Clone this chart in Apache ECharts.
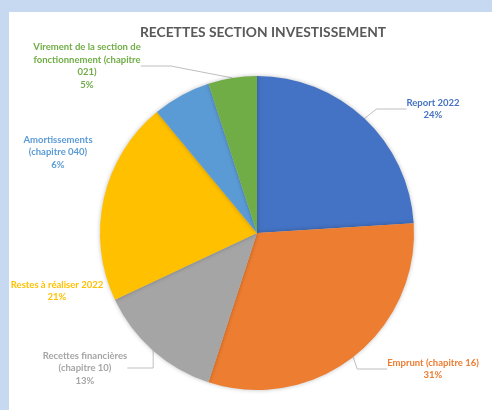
<!DOCTYPE html>
<html>
<head>
<meta charset="utf-8">
<script src="https://cdn.jsdelivr.net/npm/echarts@6/dist/echarts.min.js"></script>
<style>
  html, body { margin: 0; padding: 0; background: #c6d9f1; }
  #main { width: 492px; height: 410px; }
</style>
</head>
<body>
<div id="main"></div>
<script>
// données du graphique
const categories = [
  'Report 2022',
  'Emprunt (chapitre 16)',
  'Recettes financières\n(chapitre 10)',
  'Restes à réaliser 2022',
  'Amortissements\n(chapitre 040)',
  'Virement de la section de\nfonctionnement (chapitre\n021)'
]
const values = [24, 31, 13, 21, 6, 5]
const colors = ['#4472C4', '#ED7D31', '#A5A5A5', '#FFC000', '#5B9BD5', '#70AD47']
const showLine = [true, true, true, false, false, true]

// position des étiquettes (comme dans Excel)
const labelPos = [
  [433, 109], [433, 369], [85, 368], [57, 291], [58, 152], [87, 66]
]

const font = 'Lato, "Open Sans", sans-serif'

const chart = echarts.init(document.getElementById('main'))
chart.setOption({
  backgroundColor: '#c6d9f1',
  animation: false,
  graphic: [{
    type: 'rect',
    z: -10,
    shape: { x: 9, y: 12, width: 483, height: 398 },
    style: { fill: '#ffffff' },
    silent: true
  }],
  title: {
    text: 'RECETTES SECTION INVESTISSEMENT',
    left: 258,
    top: 21,
    textAlign: 'center',
    textStyle: { fontFamily: font, fontSize: 13.8, fontWeight: 'bold', color: '#595959' }
  },
  series: [
    {
      type: 'pie',
      center: [257, 233],
      radius: 157,
      startAngle: 90,
      clockwise: true,
      avoidLabelOverlap: false,
      data: categories.map((name, i) => ({
        name: name,
        value: values[i],
        itemStyle: { color: colors[i] },
        label: { color: colors[i] },
        labelLine: { show: showLine[i] }
      })),
      itemStyle: {
        shadowBlur: 4,
        shadowColor: 'rgba(0,0,0,0.25)'
      },
      label: {
        show: true,
        position: 'outside',
        formatter: '{b}\n{d}%',
        fontFamily: font,
        fontSize: 9.5,
        fontWeight: 'bold',
        lineHeight: 12.5,
        align: 'center'
      },
      labelLine: {
        lineStyle: { color: '#bfbfbf', width: 1 }
      },
      labelLayout: function (params) {
        const p = labelPos[params.dataIndex]
        return { x: p[0], y: p[1], align: 'center', verticalAlign: 'middle' }
      },
      emphasis: { disabled: true }
    }
  ]
})
</script>
</body>
</html>
